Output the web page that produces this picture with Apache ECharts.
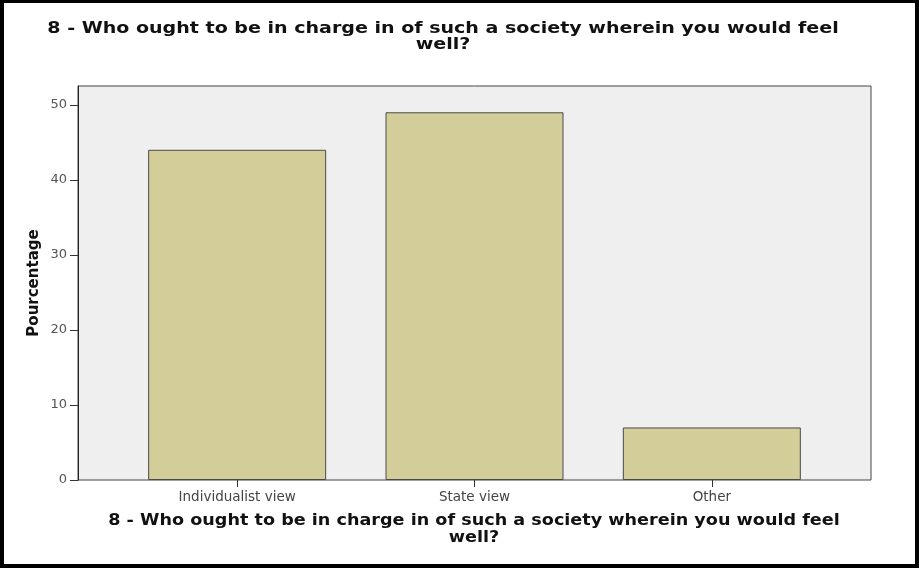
<!DOCTYPE html>
<html>
<head>
<meta charset="utf-8">
<script src="https://cdn.jsdelivr.net/npm/echarts@6/dist/echarts.min.js"></script>
<style>
  html, body { margin: 0; padding: 0; background: #fff; }
  #frame { width: 919px; height: 568px; box-sizing: border-box; border-style: solid; border-color: #000; border-width: 3px 4px 4px 4px; }
  #chart { width: 911px; height: 561px; }
</style>
</head>
<body>
<div id="frame"><div id="chart"></div></div>
<script>
const chartTitle = "8 - Who ought to be in charge in of such a society wherein you would feel\nwell?";
const categories = ["Individualist view", "State view", "Other"];
const percentages = [44, 49, 7];
const yTickValues = [0, 10, 20, 30, 40, 50];
const yAxisTitle = "Pourcentage";

const font = "DejaVu Sans";
const yMin = 0, yMax = 52.5;

const chart = echarts.init(document.getElementById('chart'), null, { renderer: 'canvas' });
chart.setOption({
  animation: false,
  graphic: [
    {
      type: 'text', x: 439, y: 18, scaleX: 1.19, scaleY: 1,
      style: { text: chartTitle, fontFamily: font, fontWeight: 'bold', fontSize: 16, lineHeight: 16, fill: '#111', align: 'center', verticalAlign: 'top' }
    },
    {
      type: 'text', x: 470, y: 509, scaleX: 1.10, scaleY: 1,
      style: { text: chartTitle, fontFamily: font, fontWeight: 'bold', fontSize: 16, lineHeight: 17, fill: '#111', align: 'center', verticalAlign: 'top' }
    }
  ],
  grid: [
    { left: 74, right: 44, top: 83, bottom: 84, show: true, backgroundColor: '#efefef', borderColor: '#444', borderWidth: 1, containLabel: false },
    { left: 114.5, right: 84.5, top: 83, bottom: 84, containLabel: false }
  ],
  xAxis: [
    { gridIndex: 0, type: 'value', show: false, min: 0, max: 1 },
    {
      gridIndex: 1, type: 'category', data: categories, boundaryGap: true,
      axisLine: { show: false },
      axisTick: { show: true, alignWithLabel: true, length: 7, lineStyle: { color: '#333', width: 1 } },
      axisLabel: { margin: 10, fontFamily: font, fontSize: 13.5, color: '#444' }
    }
  ],
  yAxis: [
    {
      gridIndex: 0, type: 'value', min: yMin, max: yMax, interval: 10,
      name: yAxisTitle, nameLocation: 'middle', nameGap: 36, nameMoveOverlap: false,
      nameTextStyle: { fontFamily: font, fontWeight: 'bold', fontSize: 15, color: '#111' },
      splitLine: { show: false },
      axisLine: { show: true, lineStyle: { color: '#222', width: 1 } },
      axisTick: { show: true, length: 8, customValues: yTickValues, lineStyle: { color: '#333' } },
      axisLabel: { margin: 11, customValues: yTickValues, fontFamily: font, fontSize: 13, color: '#555' }
    },
    { gridIndex: 1, type: 'value', min: yMin, max: yMax, show: false, splitLine: { show: false } }
  ],
  series: [
    {
      type: 'bar', xAxisIndex: 1, yAxisIndex: 1, data: percentages, barWidth: '75%',
      itemStyle: { color: '#d2cd99', borderColor: '#4a4a4a', borderWidth: 1 }
    }
  ]
});
</script>
</body>
</html>
